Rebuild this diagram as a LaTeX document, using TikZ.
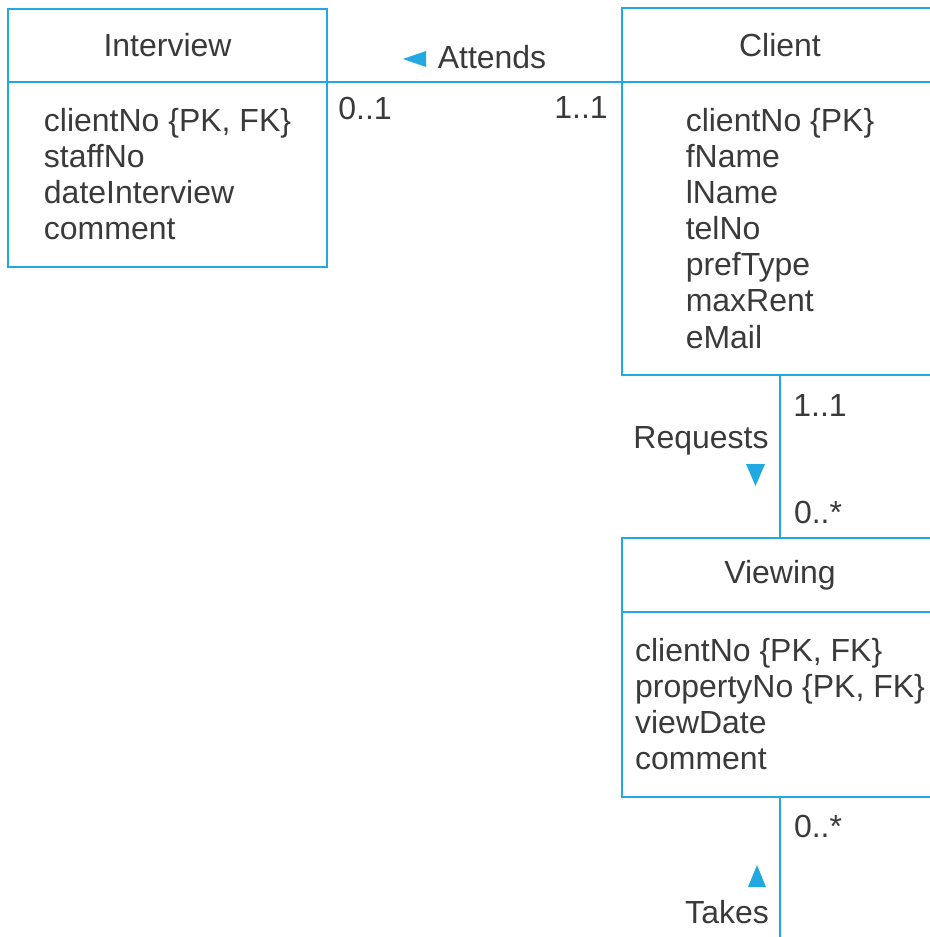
\documentclass[tikz,border=0pt]{standalone}
\usepackage{fontspec}
\setmainfont{Liberation Sans}
\usetikzlibrary{positioning}
\definecolor{umlblue}{HTML}{22A9E1}
\definecolor{umltext}{HTML}{3A3A3A}

\begin{document}
\begin{tikzpicture}[
  hdr/.style={draw=umlblue, line width=1.1pt, minimum width=6.32cm, minimum height=1.48cm,
              inner sep=0pt, outer sep=0pt, text=umltext, font=\fontsize{18.2pt}{20.5pt}\selectfont},
  attr/.style={draw=umlblue, line width=1.1pt, minimum width=6.32cm, minimum height=3.7cm,
               align=left, inner sep=0pt, outer sep=0pt, text=umltext,
               font=\fontsize{18.2pt}{20.5pt}\selectfont},
  lnk/.style={umlblue, line width=1.1pt},
  lbl/.style={text=umltext, inner sep=0pt, font=\fontsize{18.2pt}{20.5pt}\selectfont}]
  \useasboundingbox (0,0) rectangle (18.6,-18.74);
  % classes
  \node[hdr, minimum width=6.38cm, minimum height=1.46cm, anchor=north west] (intH) at (0.16,-0.18) {Interview};
  \node[attr, minimum width=6.38cm, below=0pt of intH] (intB)
    {clientNo \{PK, FK\}\\staffNo\\dateInterview\\comment};
  \node[hdr, anchor=north west] (cliH) at (12.44,-0.16) {Client};
  \node[attr, minimum height=5.86cm, below=0pt of cliH] (cliB)
    {clientNo \{PK\}\\fName\\lName\\telNo\\prefType\\maxRent\\eMail};
  \node[hdr, below=3.26cm of cliB] (viewH) {Viewing};
  \node[attr, below=0pt of viewH] (viewB)
    {clientNo \{PK, FK\}\\propertyNo \{PK, FK\}\\viewDate\\comment};
  \coordinate[below=3cm of viewB] (takesEnd);
  % associations
  \draw[lnk] (intH.south east) -- (cliH.south west);
  \draw[lnk] (cliB.south) -- (viewH.north);
  \draw[lnk] (viewB.south) -- (takesEnd);
  % Attends
  \node[lbl] (attLbl) at (9.84,-1.14) {Attends};
  \fill[umlblue] (8.06,-1.18) -- (8.52,-1.02) -- (8.52,-1.34) -- cycle;
  \node[lbl] (attMulA) at (7.30,-2.16) {0..1};
  \node[lbl] (attMulB) at (11.62,-2.16) {1..1};
  % Requests
  \node[lbl] (reqLbl) at (14.02,-8.82) {Requests};
  \fill[umlblue] (14.92,-9.28) -- (15.30,-9.28) -- (15.11,-9.72) -- cycle;
  \node[lbl] (reqMulA) at (16.40,-8.10) {1..1};
  \node[lbl] (reqMulB) at (16.36,-10.24) {0..*};
  % Takes
  \node[lbl] (takLbl) at (14.54,-18.24) {Takes};
  \fill[umlblue] (14.96,-17.74) -- (15.32,-17.74) -- (15.14,-17.30) -- cycle;
  \node[lbl] (takMul) at (16.36,-16.52) {0..*};
\end{tikzpicture}
\end{document}
